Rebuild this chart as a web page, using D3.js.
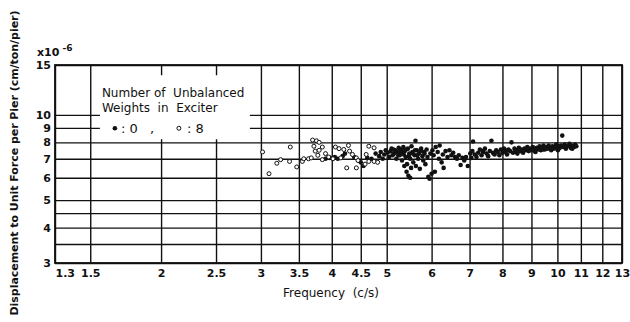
<!DOCTYPE html>
<html>
<head>
<meta charset="utf-8">
<script src="https://cdn.jsdelivr.net/npm/d3@7"></script>
<style>
body { margin: 0; background: #fff; }
text { font-family: "DejaVu Sans", sans-serif; fill: #111; }
</style>
</head>
<body>
<svg id="drawing_region"></svg>
<script>
// tick / grid values
const xTicks = [1.3, 1.5, 2, 2.5, 3, 3.5, 4, 4.5, 5, 6, 7, 8, 9, 10, 11, 12, 13];
const yGrid = [3, 3.5, 4, 4.5, 5, 6, 7, 8, 9, 10, 15];
const yLabels = [3, 4, 5, 6, 7, 8, 9, 10, 15];

// 8 unbalanced weights (open circles)
const freq8 = [3.02, 3.10, 3.20, 3.25, 3.38, 3.37, 3.47, 3.55, 3.64, 3.70, 3.76, 3.72, 3.74, 3.80, 3.85,
    3.78, 3.90, 3.95, 4.02, 3.68, 3.80, 4.06, 4.12, 4.20, 4.30, 4.35, 4.42, 4.45, 4.25, 4.42,
    4.15, 4.28, 4.60, 4.65, 4.75, 4.65, 4.75, 4.82, 4.58, 3.85, 3.57];
const disp8 = [7.4, 6.2, 6.75, 6.95, 7.7, 6.85, 6.55, 6.85, 7.0, 8.15, 8.1, 7.75, 7.45, 7.5, 7.7,
    7.2, 7.3, 7.1, 7.0, 7.05, 8.0, 7.7, 7.6, 7.55, 7.45, 7.25, 7.05, 6.9, 6.5, 6.5,
    7.05, 7.8, 7.25, 7.75, 7.65, 6.85, 6.85, 6.8, 6.7, 6.95, 7.0];

// 0 unbalanced weights (filled dots)
const freq0 = [3.90, 3.97, 4.05, 4.10, 4.18, 4.22, 4.38, 4.50, 4.55,
    4.62, 4.70, 4.78, 4.85, 4.88, 4.92, 4.95, 4.98,
    5.02, 5.05, 5.08, 5.10, 5.12, 5.15, 5.18, 5.20, 5.22, 5.25, 5.27, 5.30, 5.32, 5.33, 5.35, 5.37,
    5.38, 5.40, 5.42, 5.43, 5.45, 5.46, 5.48, 5.50, 5.50,
    5.52, 5.53, 5.55, 5.57, 5.60, 5.62, 5.63, 5.65, 5.68, 5.70, 5.72, 5.75, 5.78, 5.80, 5.82, 5.85,
    5.88, 5.90, 5.92, 5.95, 5.97, 6.00,
    5.14, 5.24, 5.29, 5.36, 5.41, 5.47, 5.56, 5.61, 5.66, 5.74, 5.83,
    6.02, 6.05, 6.08, 6.10, 6.15, 6.18, 6.20, 6.25, 6.28, 6.30, 6.35, 6.40, 6.45, 6.50, 6.55, 6.60,
    6.65, 6.70, 6.75, 6.80, 6.85, 6.90, 6.95,
    7.02, 7.05, 7.08, 7.10, 7.15, 7.20, 7.25, 7.30, 7.35, 7.40, 7.45, 7.50, 7.55, 7.60, 7.65, 7.70,
    7.75, 7.80, 7.85, 7.90, 7.95,
    8.00, 8.05, 8.10, 8.15, 8.20, 8.25, 8.30, 8.35, 8.40, 8.45, 8.50, 8.55, 8.60, 8.65, 8.70, 8.75,
    8.80, 8.85, 8.90, 8.95,
    9.00, 9.05, 9.10, 9.15, 9.20, 9.25, 9.30, 9.35, 9.40, 9.45, 9.50, 9.55, 9.60, 9.65, 9.70, 9.75,
    9.80, 9.85, 9.90, 9.95, 10.0, 10.05, 10.1, 10.15, 10.2, 10.25, 10.3, 10.35, 10.4, 10.5, 10.55,
    10.6, 10.7, 10.75, 10.8,
    7.38, 7.72, 8.12, 8.48, 8.82, 9.12, 9.42, 9.72, 10.02, 10.32, 10.62];
const disp0 = [7.0, 7.05, 7.1, 7.0, 7.15, 7.3, 7.1, 6.8, 6.6,
    7.05, 7.0, 7.3, 7.15, 7.4, 7.0, 7.25, 7.5,
    7.35, 7.1, 7.45, 7.6, 7.2, 7.3, 7.5, 7.0, 7.4, 7.65, 7.2, 7.55, 6.9, 7.35, 7.7, 6.6,
    7.45, 7.1, 6.3, 6.7, 7.6, 6.1, 7.3, 6.0, 7.0,
    6.5, 7.75, 7.4, 6.8, 7.2, 8.1, 6.6, 7.5, 7.0, 7.3, 6.45, 7.6, 7.15, 6.9, 7.4, 6.7,
    7.55, 7.1, 6.05, 5.95, 7.3, 6.2,
    7.55, 7.2, 7.4, 7.25, 7.55, 7.15, 7.3, 7.5, 7.2, 7.45, 7.3,
    7.5, 7.2, 6.3, 7.7, 7.4, 7.0, 7.8, 6.8, 7.25, 6.5, 7.45, 7.1, 7.5, 7.2, 7.35, 7.1,
    7.0, 7.2, 6.65, 7.05, 6.9, 7.1, 6.6,
    7.3, 7.05, 7.45, 8.05, 7.25, 7.1, 7.35, 7.55, 7.2, 7.4, 7.6, 7.3, 7.15, 7.45, 8.1, 7.35,
    7.25, 7.5, 7.4, 7.2, 7.55,
    7.35, 7.6, 7.4, 7.25, 7.55, 7.45, 8.0, 7.35, 7.6, 7.5, 7.3, 7.65, 7.45, 7.55, 7.35, 7.6,
    7.5, 7.7, 7.45, 7.6,
    7.5, 7.7, 7.55, 7.4, 7.65, 7.55, 7.75, 7.5, 7.65, 7.8, 7.55, 7.7, 7.6, 7.8, 7.65, 7.5,
    7.75, 7.6, 7.7, 7.85, 7.6, 7.75, 7.65, 7.8, 8.45, 7.7, 7.85, 7.6, 7.75, 7.9, 7.65,
    7.8, 7.7, 7.85, 7.75,
    7.45, 7.3, 7.5, 7.4, 7.55, 7.45, 7.55, 7.6, 7.5, 7.7, 7.6];

const config = {
    parent: '#drawing_region',
    width: 630,
    height: 322,
    margin: {top: 65, right: 8, bottom: 59, left: 55}
};

const svg = d3.select(config.parent)
    .attr('width', config.width)
    .attr('height', config.height);

svg.append('rect')
    .attr('width', config.width)
    .attr('height', config.height)
    .attr('fill', '#fff');

const inner_width = config.width - config.margin.left - config.margin.right;
const inner_height = config.height - config.margin.top - config.margin.bottom;

const chart = svg.append('g')
    .attr('transform', `translate(${config.margin.left}, ${config.margin.top})`);

const xscale = d3.scaleLog()
    .domain([1.3, 13])
    .range([0, inner_width]);

const yscale = d3.scaleLog()
    .domain([3, 15])
    .range([inner_height, 0]);

// grid lines come from the axes' ticks
const xaxis = d3.axisBottom(xscale)
    .tickValues(xTicks)
    .tickFormat(d => String(d))
    .tickSize(-inner_height)
    .tickPadding(6);

const yaxis = d3.axisLeft(yscale)
    .tickValues(yGrid)
    .tickFormat(d => yLabels.includes(d) ? String(d) : '')
    .tickSize(-inner_width)
    .tickPadding(4);

const xaxis_group = chart.append('g')
    .attr('transform', `translate(0, ${inner_height})`)
    .call(xaxis);

const yaxis_group = chart.append('g')
    .call(yaxis);

[xaxis_group, yaxis_group].forEach(g => {
    g.select('.domain').remove();
    g.selectAll('.tick line')
        .attr('stroke', '#111')
        .attr('stroke-width', 1.4);
    g.selectAll('.tick text')
        .attr('font-size', 11)
        .attr('font-weight', 'bold')
        .attr('fill', '#111');
});

// first x label sits right of the corner, like the original
xaxis_group.selectAll('.tick text')
    .filter(d => d === xTicks[0])
    .attr('text-anchor', 'start')
    .attr('x', 0);

// legend box (covers the grid)
const legend = chart.append('g')
    .attr('transform', `translate(${xscale(1.56) }, ${yscale(13.8)})`);

legend.append('rect')
    .attr('width', 150)
    .attr('height', 64)
    .attr('fill', '#fff');

legend.append('text')
    .attr('x', 2).attr('y', 22)
    .attr('font-size', 12)
    .attr('xml:space', 'preserve')
    .text('Number of  Unbalanced');

legend.append('text')
    .attr('x', 2).attr('y', 37)
    .attr('font-size', 12)
    .attr('xml:space', 'preserve')
    .text('Weights  in  Exciter');

legend.append('circle')
    .attr('cx', 15).attr('cy', 53).attr('r', 2.3)
    .attr('fill', '#111');
legend.append('text')
    .attr('x', 21).attr('y', 58)
    .attr('font-size', 13)
    .attr('xml:space', 'preserve')
    .text(': 0   ,');
legend.append('circle')
    .attr('cx', 79).attr('cy', 53).attr('r', 2)
    .attr('fill', '#fff')
    .attr('stroke', '#111')
    .attr('stroke-width', 1);
legend.append('text')
    .attr('x', 87).attr('y', 58)
    .attr('font-size', 13)
    .attr('xml:space', 'preserve')
    .text(': 8');

// points
const pts8 = freq8.map((f, i) => ({f: f, v: disp8[i]}));
const pts0 = freq0.map((f, i) => ({f: f, v: disp0[i]}));

chart.append('g').selectAll('circle')
    .data(pts0)
    .enter()
    .append('circle')
    .attr('cx', d => xscale(d.f))
    .attr('cy', d => yscale(d.v))
    .attr('r', 2.3)
    .attr('fill', '#111');

chart.append('g').selectAll('circle')
    .data(pts8)
    .enter()
    .append('circle')
    .attr('cx', d => xscale(d.f))
    .attr('cy', d => yscale(d.v))
    .attr('r', 2)
    .attr('fill', '#fff')
    .attr('stroke', '#111')
    .attr('stroke-width', 1);

// frame
chart.append('rect')
    .attr('width', inner_width)
    .attr('height', inner_height)
    .attr('fill', 'none')
    .attr('stroke', '#111')
    .attr('stroke-width', 1.8);

// exponent label
const expo = svg.append('text')
    .attr('x', 37)
    .attr('y', 56)
    .attr('font-size', 11)
    .attr('font-weight', 'bold');
expo.append('tspan').text('x10');
expo.append('tspan').attr('dy', -5).attr('font-size', 9).text(' -6');

// axis titles
svg.append('text')
    .attr('x', 331)
    .attr('y', 297)
    .attr('text-anchor', 'middle')
    .attr('font-size', 12)
    .attr('xml:space', 'preserve')
    .text('Frequency  (c/s)');

svg.append('text')
    .attr('transform', 'translate(18, 163) rotate(-90)')
    .attr('text-anchor', 'middle')
    .attr('font-size', 11)
    .attr('font-weight', 'bold')
    .attr('textLength', 305)
    .attr('lengthAdjust', 'spacing')
    .text('Displacement to Unit Force per Pier (cm/ton/pier)');
</script>
</body>
</html>
